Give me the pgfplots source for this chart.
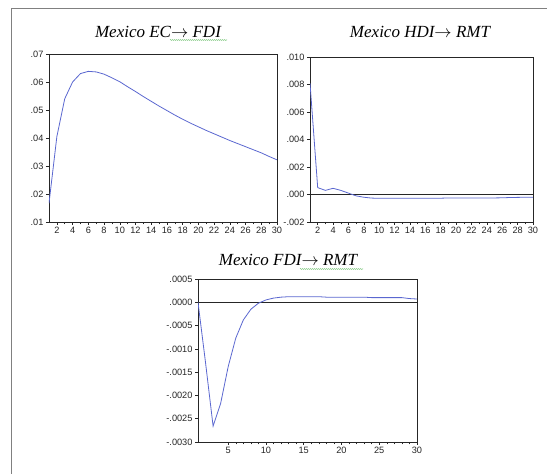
\documentclass[border=0pt]{standalone}
\usepackage{fontspec}
\setmainfont{Liberation Serif}
\setsansfont{Liberation Sans}
\usepackage{pgfplots}
\pgfplotsset{compat=1.18}
\usetikzlibrary{decorations.pathmorphing}

\definecolor{curve}{HTML}{5A67D0}
\definecolor{framegray}{HTML}{808080}
\definecolor{spell}{HTML}{6BBF6B}

\pgfplotsset{
  irf/.style={
    scale only axis,
    anchor=south west,
    xmin=1, xmax=30,
    scaled ticks=false,
    axis line style={black!85, line width=0.6pt},
    tick style={black!85, line width=0.5pt},
    tick align=outside,
    major tick length=3pt,
    minor tick length=2.5pt,
    xtick pos=bottom, ytick pos=left,
    ticklabel style={font=\sffamily\fontsize{9.2}{10}\selectfont, text=black!85},
    /pgf/number format/assume math mode=true,
    xticklabel style={yshift=1pt},
    yticklabel style={xshift=1pt},
  },
  curveline/.style={curve, line width=0.8pt, no markers},
}

\newcommand{\ttl}{\itshape\fontsize{17}{20}\selectfont}
\newcommand{\arr}{\raisebox{0.5pt}{$\rightarrow$}}

\begin{document}
\begin{tikzpicture}
\useasboundingbox (0pt,0pt) rectangle (547pt,474pt);
\draw[framegray, line width=1pt] (11pt,0pt) -- (11pt,465pt) -- (547pt,465pt);

% Mexico EC -> FDI
\begin{axis}[irf, at={(49pt,252pt)}, width=228pt, height=168pt,
  ymin=0.01, ymax=0.07,
  ytick={0.01,0.02,0.03,0.04,0.05,0.06,0.07},
  yticklabels={.01,.02,.03,.04,.05,.06,.07},
  xtick={2,4,...,30}, minor x tick num=1]
\addplot[curveline] coordinates {
 (1,0.0167) (2,0.0405) (3,0.0540) (4,0.0600) (5,0.0630) (6,0.0638) (7,0.0636)
 (8,0.0628) (9,0.0615) (10,0.0601) (11,0.0583) (12,0.0566) (13,0.0548)
 (14,0.0531) (15,0.0514) (16,0.0498) (17,0.0482) (18,0.0467) (19,0.0453)
 (20,0.0440) (21,0.0427) (22,0.0415) (23,0.0403) (24,0.0391) (25,0.0380)
 (26,0.0369) (27,0.0358) (28,0.0347) (29,0.0334) (30,0.0322)};
\end{axis}
\node at (158pt,442pt) {\ttl Mexico EC\arr\ FDI};
\draw[spell, line width=0.5pt, decorate, decoration={snake, amplitude=0.5pt, segment length=2pt}] (170pt,434pt) -- (227pt,434pt);

% Mexico HDI -> RMT
\begin{axis}[irf, at={(310pt,252pt)}, width=223pt, height=165pt,
  ymin=-0.002, ymax=0.010,
  ytick={-0.002,0,0.002,0.004,0.006,0.008,0.010},
  yticklabels={-.002,.000,.002,.004,.006,.008,.010},
  xtick={2,4,...,30}, minor x tick num=1]
\addplot[black!85, line width=0.6pt, no markers] coordinates {(1,0) (30,0)};
\addplot[curveline] coordinates {
 (1,0.0081) (2,0.0005) (3,0.0003) (4,0.00045) (5,0.0003) (6,0.0001) (7,-0.0001)
 (8,-0.0002) (9,-0.00026) (10,-0.00028) (11,-0.00028) (12,-0.00028) (13,-0.00028)
 (14,-0.00028) (15,-0.00028) (16,-0.00028) (17,-0.00028) (18,-0.00027)
 (19,-0.00025) (20,-0.00025) (21,-0.00025) (22,-0.00025) (23,-0.00025)
 (24,-0.00025) (25,-0.00025) (26,-0.00024) (27,-0.00022) (28,-0.00021)
 (29,-0.0002) (30,-0.0002)};
\end{axis}
\node at (420pt,442pt) {\ttl Mexico HDI\arr\ RMT};

% Mexico FDI -> RMT
\begin{axis}[irf, at={(198pt,32pt)}, width=219pt, height=163pt,
  ymin=-0.003, ymax=0.0005,
  ytick={-0.003,-0.0025,-0.002,-0.0015,-0.001,-0.0005,0,0.0005},
  yticklabels={-.0030,-.0025,-.0020,-.0015,-.0010,-.0005,.0000,.0005},
  xtick={5,10,...,30}, minor x tick num=4]
\addplot[black!85, line width=0.6pt, no markers] coordinates {(1,0) (30,0)};
\addplot[curveline] coordinates {
 (1,0) (2,-0.0013) (3,-0.00266) (4,-0.00217) (5,-0.00138) (6,-0.00077)
 (7,-0.00038) (8,-0.00015) (9,-0.00002) (10,0.00005) (11,0.00009) (12,0.00011)
 (13,0.00012) (14,0.00012) (15,0.00012) (16,0.00012) (17,0.00012) (18,0.00011)
 (19,0.00011) (20,0.00011) (21,0.00011) (22,0.00011) (23,0.00011) (24,0.0001)
 (25,0.0001) (26,0.0001) (27,0.0001) (28,0.0001) (29,0.00008) (30,0.00007)};
\end{axis}
\node at (288pt,214pt) {\ttl Mexico FDI\arr\ RMT};
\draw[spell, line width=0.5pt, decorate, decoration={snake, amplitude=0.5pt, segment length=2pt}] (300pt,205pt) -- (363pt,205pt);
\end{tikzpicture}
\end{document}
